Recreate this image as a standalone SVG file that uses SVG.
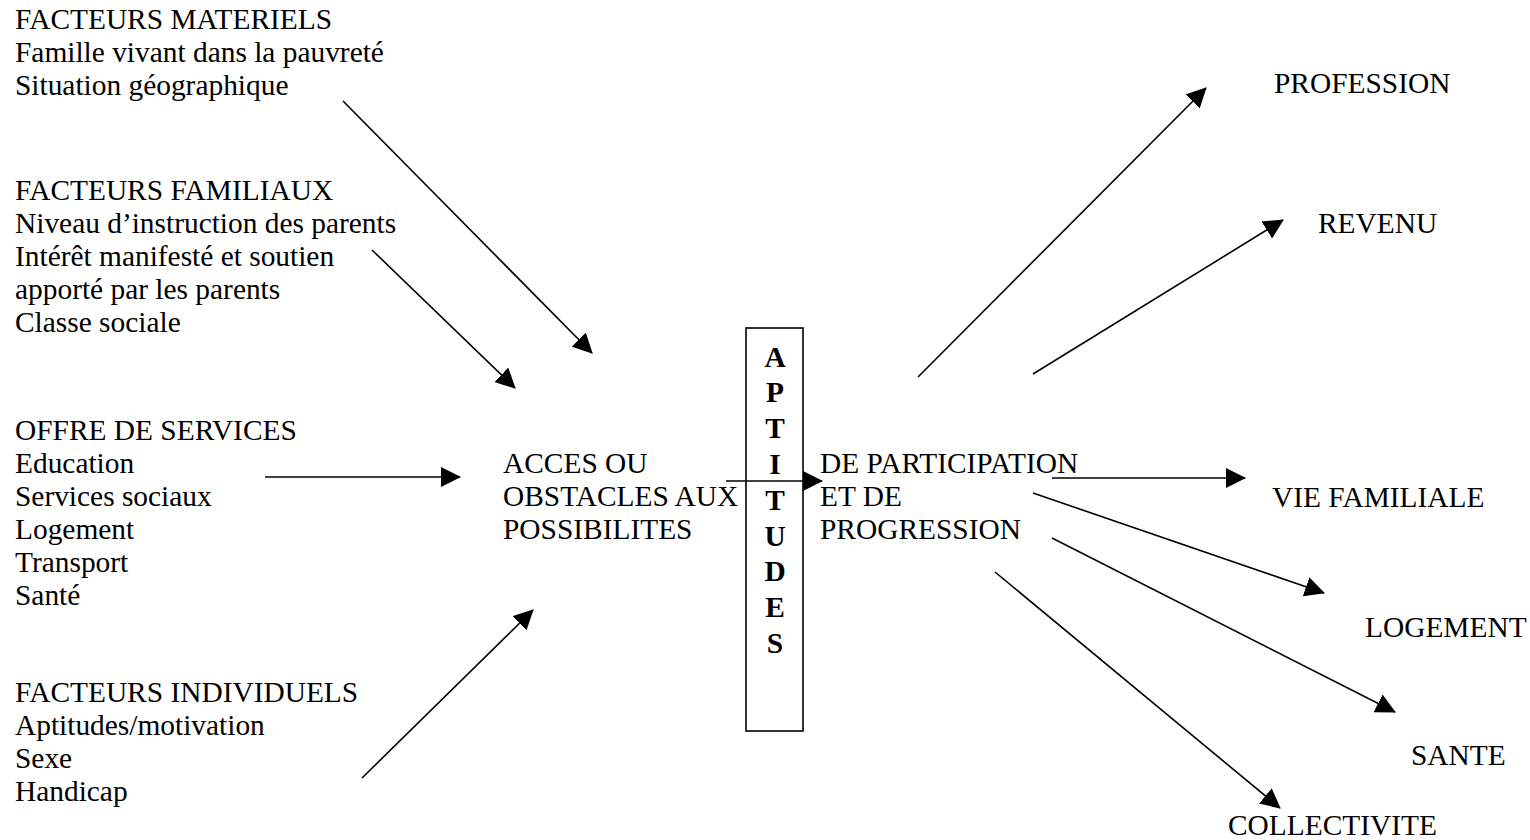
<svg xmlns="http://www.w3.org/2000/svg" width="1530" height="840" viewBox="0 0 1530 840">
  <style>
    text { font-family: "Liberation Serif", "Times New Roman", serif; font-size: 29.4px; fill: #000; }
    .bold { font-weight: bold; text-anchor: middle; }
    .conn line { stroke: #000; stroke-width: 1.6; fill: none; marker-end: url(#head); }
    .frame { fill: #fff; stroke: #000; stroke-width: 1.6; }
  </style>
  <defs>
    <marker id="head" viewBox="0 0 20 20" refX="19" refY="10" markerWidth="20" markerHeight="20" markerUnits="userSpaceOnUse" orient="auto">
      <path d="M0,0 L20,10 L0,20 z" fill="#000"/>
    </marker>
  </defs>
  <rect width="1530" height="840" fill="#fff"/>

  <!-- left-hand factor groups -->
  <g id="facteurs-materiels">
    <text x="15" y="29">FACTEURS MATERIELS</text>
    <text x="15" y="62">Famille vivant dans la pauvreté</text>
    <text x="15" y="95">Situation géographique</text>
  </g>
  <g id="facteurs-familiaux">
    <text x="15" y="200">FACTEURS FAMILIAUX</text>
    <text x="15" y="233">Niveau d’instruction des parents</text>
    <text x="15" y="266">Intérêt manifesté et soutien</text>
    <text x="15" y="299">apporté par les parents</text>
    <text x="15" y="332">Classe sociale</text>
  </g>
  <g id="offre-services">
    <text x="15" y="440">OFFRE DE SERVICES</text>
    <text x="15" y="473">Education</text>
    <text x="15" y="506">Services sociaux</text>
    <text x="15" y="539">Logement</text>
    <text x="15" y="572">Transport</text>
    <text x="15" y="605">Santé</text>
  </g>
  <g id="facteurs-individuels">
    <text x="15" y="702">FACTEURS INDIVIDUELS</text>
    <text x="15" y="735">Aptitudes/motivation</text>
    <text x="15" y="768">Sexe</text>
    <text x="15" y="801">Handicap</text>
  </g>

  <!-- centre -->
  <g id="acces">
    <text x="503" y="473">ACCES OU</text>
    <text x="503" y="506">OBSTACLES AUX</text>
    <text x="503" y="539">POSSIBILITES</text>
  </g>
  <g id="aptitudes">
    <rect class="frame" x="746" y="328" width="57" height="403"/>
    <text class="bold" x="775" y="366.5">A</text>
    <text class="bold" x="775" y="402.3">P</text>
    <text class="bold" x="775" y="438.1">T</text>
    <text class="bold" x="775" y="473.9">I</text>
    <text class="bold" x="775" y="509.7">T</text>
    <text class="bold" x="775" y="545.5">U</text>
    <text class="bold" x="775" y="581.3">D</text>
    <text class="bold" x="775" y="617.1">E</text>
    <text class="bold" x="775" y="652.9">S</text>
  </g>
  <g id="participation">
    <text x="820" y="473">DE PARTICIPATION</text>
    <text x="820" y="506">ET DE</text>
    <text x="820" y="539">PROGRESSION</text>
  </g>

  <!-- outcomes -->
  <g id="profession"><text x="1274" y="93">PROFESSION</text></g>
  <g id="revenu"><text x="1318" y="233">REVENU</text></g>
  <g id="vie-familiale"><text x="1272" y="507">VIE FAMILIALE</text></g>
  <g id="logement"><text x="1365" y="637">LOGEMENT</text></g>
  <g id="sante"><text x="1411" y="765">SANTE</text></g>
  <g id="collectivite"><text x="1228" y="835">COLLECTIVITE</text></g>

  <!-- connectors -->
  <g id="connectors" class="conn">
    <line x1="343" y1="101" x2="592" y2="353"/>
    <line x1="372" y1="250" x2="515" y2="388"/>
    <line x1="265" y1="477" x2="460" y2="477"/>
    <line x1="362" y1="778" x2="533" y2="610"/>
    <line x1="726" y1="481" x2="822" y2="481"/>
    <line x1="918" y1="377" x2="1206" y2="88"/>
    <line x1="1033" y1="374" x2="1283" y2="220"/>
    <line x1="1052" y1="478" x2="1245" y2="478"/>
    <line x1="1033" y1="493" x2="1324" y2="593"/>
    <line x1="1052" y1="538" x2="1395" y2="712"/>
    <line x1="995" y1="572" x2="1280" y2="808"/>
  </g>
</svg>
